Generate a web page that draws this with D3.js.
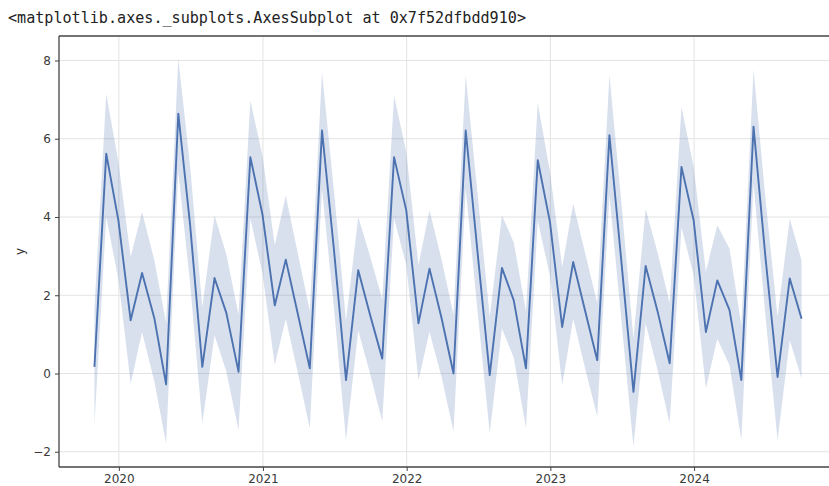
<!DOCTYPE html>
<html>
<head>
<meta charset="utf-8">
<script src="https://cdn.jsdelivr.net/npm/d3@7"></script>
<style>
  html, body { margin: 0; padding: 0; background: #fff; }
  svg { display: block; }
</style>
</head>
<body>
<svg id="chart" width="829" height="486"></svg>
<script>
// Month-end dates, from 2019-10-31 to 2024-09-30
const months = [
  "2019-10-31","2019-11-30","2019-12-31",
  "2020-01-31","2020-02-29","2020-03-31","2020-04-30","2020-05-31","2020-06-30",
  "2020-07-31","2020-08-31","2020-09-30","2020-10-31","2020-11-30","2020-12-31",
  "2021-01-31","2021-02-28","2021-03-31","2021-04-30","2021-05-31","2021-06-30",
  "2021-07-31","2021-08-31","2021-09-30","2021-10-31","2021-11-30","2021-12-31",
  "2022-01-31","2022-02-28","2022-03-31","2022-04-30","2022-05-31","2022-06-30",
  "2022-07-31","2022-08-31","2022-09-30","2022-10-31","2022-11-30","2022-12-31",
  "2023-01-31","2023-02-28","2023-03-31","2023-04-30","2023-05-31","2023-06-30",
  "2023-07-31","2023-08-31","2023-09-30","2023-10-31","2023-11-30","2023-12-31",
  "2024-01-31","2024-02-29","2024-03-31","2024-04-30","2024-05-31","2024-06-30",
  "2024-07-31","2024-08-31","2024-09-30"
];

// Monthly mean of y
const meanY = [
  0.17, 5.62, 3.9,
  1.36, 2.57, 1.42, -0.28, 6.64, 3.8,
  0.17, 2.44, 1.55, 0.04, 5.53, 4.05,
  1.74, 2.91, 1.5, 0.13, 6.21, 3.2,
  -0.17, 2.64, 1.5, 0.38, 5.53, 4.17,
  1.28, 2.68, 1.4, 0.0, 6.21, 3.1,
  -0.04, 2.7, 1.87, 0.13, 5.45, 3.87,
  1.19, 2.85, 1.57, 0.34, 6.09, 2.9,
  -0.47, 2.75, 1.6, 0.26, 5.28, 3.91,
  1.06, 2.38, 1.62, -0.17, 6.31, 3.0,
  -0.09, 2.43, 1.4
];

// 95% confidence interval, lower bound
const lowerY = [
  -1.32, 4.0, 2.4,
  -0.26, 1.06, -0.2, -1.79, 5.15, 2.3,
  -1.28, 0.98, 0.05, -1.45, 3.96, 2.55,
  0.21, 1.4, 0.0, -1.4, 4.72, 1.7,
  -1.7, 1.1, 0.0, -1.23, 3.96, 2.77,
  -0.17, 1.06, -0.1, -1.49, 4.72, 1.6,
  -1.53, 1.15, 0.4, -1.4, 3.9, 2.5,
  -0.3, 1.4, 0.1, -1.1, 4.55, 1.4,
  -1.87, 1.28, 0.1, -1.28, 3.74, 2.51,
  -0.38, 0.89, 0.21, -1.7, 4.85, 1.5,
  -1.7, 0.85, -0.13
];

// 95% confidence interval, upper bound
const upperY = [
  1.66, 7.15, 5.4,
  2.98, 4.13, 2.9, 1.3, 8.06, 5.3,
  1.7, 4.04, 3.05, 1.5, 6.98, 5.55,
  3.28, 4.55, 3.05, 1.6, 7.7, 4.7,
  1.35, 4.0, 3.0, 1.9, 7.1, 5.66,
  2.77, 4.17, 2.9, 1.5, 7.62, 4.6,
  1.45, 4.04, 3.35, 1.6, 6.92, 5.15,
  2.72, 4.34, 3.05, 1.8, 7.63, 4.4,
  0.9, 4.21, 3.1, 1.8, 6.81, 5.28,
  2.6, 3.79, 3.19, 1.23, 7.77, 4.5,
  1.45, 3.96, 2.89
];

const yTicks = [-2, 0, 2, 4, 6, 8];
const xTickYears = [2020, 2021, 2022, 2023, 2024];
const reprText = "<matplotlib.axes._subplots.AxesSubplot at 0x7f52dfbdd910>";

const parse = d3.utcParse("%Y-%m-%d");
const rows = months.map((m, i) => ({ date: parse(m), y: meanY[i], lo: lowerY[i], hi: upperY[i] }));

const svg = d3.select("#chart");
const axLeft = 59, axTop = 36, axBottom = 467, axRight = 837;

const x = d3.scaleUtc()
  .domain([Date.UTC(2019, 7, 2), Date.UTC(2024, 11, 29)])
  .range([axLeft, axRight]);
const y = d3.scaleLinear()
  .domain([-2.39, 8.626])
  .range([axBottom, axTop]);

// Notebook output line above the figure
svg.append("text")
  .attr("x", 8).attr("y", 23)
  .attr("font-family", "DejaVu Sans Mono, monospace")
  .attr("font-size", 15.1)
  .attr("fill", "#222")
  .text(reprText);

const clipId = "plotclip";
svg.append("clipPath").attr("id", clipId)
  .append("rect").attr("x", axLeft).attr("y", axTop)
  .attr("width", axRight - axLeft).attr("height", axBottom - axTop);

// Grid
const grid = svg.append("g").attr("clip-path", `url(#${clipId})`);
const xTickDates = xTickYears.map(yr => new Date(Date.UTC(yr, 0, 1)));
grid.selectAll("line.vg").data(xTickDates).join("line")
  .attr("x1", d => x(d)).attr("x2", d => x(d))
  .attr("y1", axTop).attr("y2", axBottom)
  .attr("stroke", "#e3e3e3").attr("stroke-width", 1);
grid.selectAll("line.hg").data(yTicks).join("line")
  .attr("x1", axLeft).attr("x2", axRight)
  .attr("y1", d => y(d)).attr("y2", d => y(d))
  .attr("stroke", "#e3e3e3").attr("stroke-width", 1);

// Confidence band and mean line
const plot = svg.append("g").attr("clip-path", `url(#${clipId})`);
plot.append("path").datum(rows)
  .attr("d", d3.area().x(d => x(d.date)).y0(d => y(d.lo)).y1(d => y(d.hi)))
  .attr("fill", "#4c72b0").attr("fill-opacity", 0.22);
plot.append("path").datum(rows)
  .attr("d", d3.line().x(d => x(d.date)).y(d => y(d.y)))
  .attr("fill", "none").attr("stroke", "#4c72b0").attr("stroke-width", 1.9)
  .attr("stroke-linejoin", "round");

// Axes
const xAxis = d3.axisBottom(x).tickValues(xTickDates).tickFormat(d3.utcFormat("%Y")).tickSize(4).tickPadding(3);
const yAxis = d3.axisLeft(y).tickValues(yTicks).tickFormat(d => d < 0 ? "\u2212" + Math.abs(d) : d).tickSize(4).tickPadding(4);

const gx = svg.append("g").attr("transform", `translate(0,${axBottom})`).call(xAxis);
const gy = svg.append("g").attr("transform", `translate(${axLeft},0)`).call(yAxis);
[gx, gy].forEach(g => {
  g.select(".domain").remove();
  g.selectAll(".tick line").attr("stroke", "#444").attr("stroke-width", 1);
  g.selectAll(".tick text").attr("font-family", "DejaVu Sans, sans-serif")
    .attr("font-size", 12).attr("fill", "#3a3a3a");
});

// Spines
svg.append("line").attr("x1", axLeft).attr("x2", axLeft).attr("y1", axTop).attr("y2", axBottom)
  .attr("stroke", "#444").attr("stroke-width", 1.3);
svg.append("line").attr("x1", axLeft).attr("x2", axRight).attr("y1", axBottom).attr("y2", axBottom)
  .attr("stroke", "#444").attr("stroke-width", 1.3);
svg.append("line").attr("x1", axLeft).attr("x2", axRight).attr("y1", axTop).attr("y2", axTop)
  .attr("stroke", "#444").attr("stroke-width", 1.3);

// Y axis label
svg.append("text")
  .attr("transform", `translate(24,${(axTop + axBottom) / 2}) rotate(-90)`)
  .attr("text-anchor", "middle")
  .attr("font-family", "DejaVu Sans, sans-serif")
  .attr("font-size", 12).attr("fill", "#333")
  .text("y");
</script>
</body>
</html>
